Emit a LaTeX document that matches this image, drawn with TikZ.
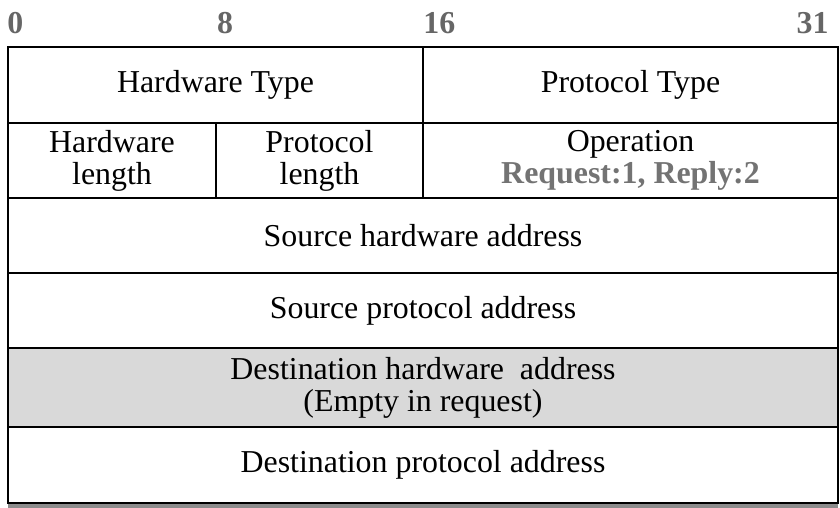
\documentclass[tikz,border=0pt]{standalone}
\usepackage{fontspec}
\setmainfont{Liberation Serif}
\usetikzlibrary{positioning}
\tikzset{
	fieldbox/.style={rectangle, draw=black, line width=1pt, inner sep=0pt, outer sep=0pt,
		align=center, font=\fontsize{16}{16}\selectfont},
	bitlabel/.style={font=\fontsize{16}{16}\selectfont\bfseries, text=black!60, inner sep=0pt}
}
\newcommand{\opcodes}[1]{\textcolor{black!55}{\bfseries #1}}

\begin{document}
\begin{tikzpicture}[x=0.5bp, y=-0.5bp]
	\useasboundingbox (0,0) rectangle (840,508);
	% bit positions
	\node[bitlabel, anchor=west] (b0) at (7,23) {0};
	\node[bitlabel] (b8) at (225,23) {8};
	\node[bitlabel, anchor=west] (b16) at (423,23) {16};
	\node[bitlabel, anchor=east] (b31) at (829,23) {31};
	% first word
	\node[fieldbox, anchor=north west, minimum width=207.5bp, minimum height=38bp] (hwtype) at (8,47) {Hardware Type};
	\node[fieldbox, right=0pt of hwtype, minimum width=207.5bp, minimum height=38bp] (prtype) {Protocol Type};
	% second word
	\node[fieldbox, below right=0pt and 0pt of hwtype.south west, minimum width=104bp, minimum height=37.5bp] (hwlen) {Hardware\\length};
	\node[fieldbox, right=0pt of hwlen, minimum width=103.5bp, minimum height=37.5bp] (prlen) {Protocol\\length};
	\node[fieldbox, below=0pt of prtype, minimum width=207.5bp, minimum height=37.5bp] (oper) {Operation\\\opcodes{Request:1, Reply:2}};
	% addresses
	\node[fieldbox, below right=0pt and 0pt of hwlen.south west, minimum width=415bp, minimum height=37.5bp] (srchw) {Source hardware address};
	\node[fieldbox, below=0pt of srchw, minimum width=415bp, minimum height=37.5bp] (srcpr) {Source protocol address};
	\node[fieldbox, below=0pt of srcpr, fill=black!15, minimum width=415bp, minimum height=39.5bp] (dsthw) {Destination hardware\ \ address\\(Empty in request)};
	\node[fieldbox, below=0pt of dsthw, minimum width=415bp, minimum height=38bp] (dstpr) {Destination protocol address};
	\draw[black!45, line width=1.6pt] ([yshift=-1.5pt]dstpr.south west) -- ([yshift=-1.5pt]dstpr.south east);
\end{tikzpicture}
\end{document}
